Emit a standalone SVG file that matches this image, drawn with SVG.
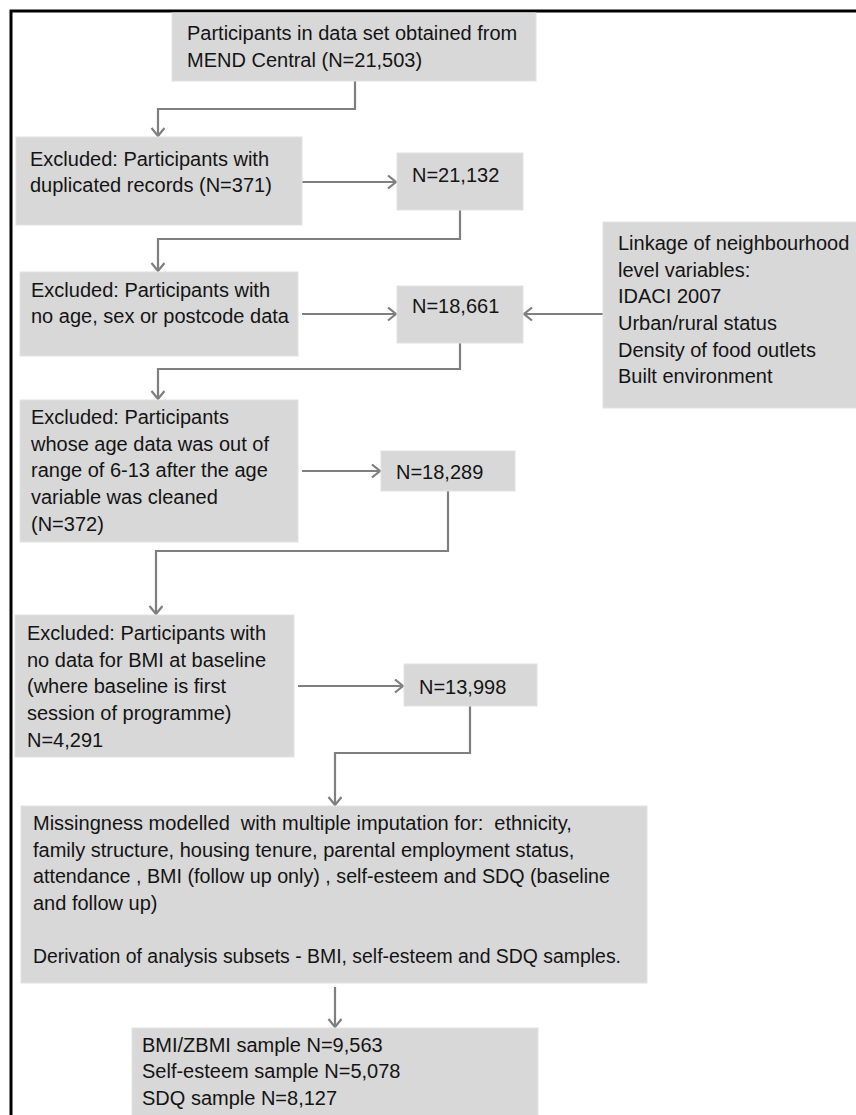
<svg xmlns="http://www.w3.org/2000/svg" width="856" height="1115" viewBox="0 0 856 1115">
<style>
.box{fill:#d8d8d8;stroke:#e2e2e2;stroke-width:1}
.t{font-family:"Liberation Sans",Arial,sans-serif;font-size:20px;fill:#141414}
.c{fill:none;stroke:#7f7f7f;stroke-width:2.2}
</style>
<defs>
<marker id="ah" markerUnits="userSpaceOnUse" markerWidth="14" markerHeight="16" refX="9" refY="7" orient="auto">
<path d="M1,0.5 L9,7 L1,13.5" fill="none" stroke="#7f7f7f" stroke-width="2.2"/>
</marker>
</defs>
<rect width="856" height="1115" fill="#ffffff"/>
<path d="M11,1115 V11 H856" fill="none" stroke="#000" stroke-width="3"/>

<g id="connectors">
<path class="c" d="M355,81 V109 H158 V136" marker-end="url(#ah)"/>
<path class="c" d="M302,182 H396" marker-end="url(#ah)"/>
<path class="c" d="M460,210 V239 H158 V271" marker-end="url(#ah)"/>
<path class="c" d="M302,314 H396" marker-end="url(#ah)"/>
<path class="c" d="M603,314 H524" marker-end="url(#ah)"/>
<path class="c" d="M460,343 V369 H158 V399" marker-end="url(#ah)"/>
<path class="c" d="M302,471 H380" marker-end="url(#ah)"/>
<path class="c" d="M448,491 V551 H156 V614" marker-end="url(#ah)"/>
<path class="c" d="M298,686 H403" marker-end="url(#ah)"/>
<path class="c" d="M470,706 V753 H335 V805" marker-end="url(#ah)"/>
<path class="c" d="M335,987 V1027" marker-end="url(#ah)"/>
</g>

<g id="n1">
<rect class="box" x="172" y="13" width="364" height="68"/>
<text class="t" x="187" y="40">Participants in data set obtained from</text>
<text class="t" x="187" y="67">MEND Central (N=21,503)</text>
</g>
<g id="n2">
<rect class="box" x="16" y="137" width="286" height="88"/>
<text class="t" x="30" y="166">Excluded: Participants with</text>
<text class="t" x="30" y="192">duplicated records (N=371)</text>
</g>
<g id="n3">
<rect class="box" x="397" y="153" width="126" height="57"/>
<text class="t" x="412" y="182">N=21,132</text>
</g>
<g id="n4">
<rect class="box" x="20" y="272" width="278" height="84"/>
<text class="t" x="31" y="297">Excluded: Participants with</text>
<text class="t" x="31" y="323">no age, sex or postcode data</text>
</g>
<g id="n5">
<rect class="box" x="397" y="286" width="126" height="57"/>
<text class="t" x="412" y="313">N=18,661</text>
</g>
<g id="n6">
<rect class="box" x="603" y="222" width="260" height="186"/>
<text class="t" x="618" y="250">Linkage of neighbourhood</text>
<text class="t" x="618" y="277">level variables:</text>
<text class="t" x="618" y="303">IDACI 2007</text>
<text class="t" x="618" y="330">Urban/rural status</text>
<text class="t" x="618" y="357">Density of food outlets</text>
<text class="t" x="618" y="383">Built environment</text>
</g>
<g id="n7">
<rect class="box" x="20" y="400" width="278" height="142"/>
<text class="t" x="31" y="424">Excluded: Participants</text>
<text class="t" x="31" y="451">whose age data was out of</text>
<text class="t" x="31" y="477">range of 6-13 after the age</text>
<text class="t" x="31" y="504">variable was cleaned</text>
<text class="t" x="31" y="531">(N=372)</text>
</g>
<g id="n8">
<rect class="box" x="381" y="451" width="134" height="40"/>
<text class="t" x="396" y="479">N=18,289</text>
</g>
<g id="n9">
<rect class="box" x="15" y="615" width="279" height="142"/>
<text class="t" x="27" y="640">Excluded: Participants with</text>
<text class="t" x="27" y="667">no data for BMI at baseline</text>
<text class="t" x="27" y="693">(where baseline is first</text>
<text class="t" x="27" y="720">session of programme)</text>
<text class="t" x="27" y="747">N=4,291</text>
</g>
<g id="n10">
<rect class="box" x="404" y="664" width="133" height="42"/>
<text class="t" x="419" y="694">N=13,998</text>
</g>
<g id="n11">
<rect class="box" x="21" y="806" width="626" height="177"/>
<text class="t" x="33" y="830" xml:space="preserve">Missingness modelled  with multiple imputation for:  ethnicity,</text>
<text class="t" x="33" y="857">family structure, housing tenure, parental employment status,</text>
<text class="t" x="33" y="883" textLength="577" lengthAdjust="spacingAndGlyphs">attendance , BMI (follow up only) , self-esteem and SDQ (baseline</text>
<text class="t" x="33" y="910">and follow up)</text>
<text class="t" x="33" y="963" textLength="588" lengthAdjust="spacingAndGlyphs">Derivation of analysis subsets - BMI, self-esteem and SDQ samples.</text>
</g>
<g id="n12">
<rect class="box" x="132" y="1028" width="406" height="95"/>
<text class="t" x="142" y="1052">BMI/ZBMI sample N=9,563</text>
<text class="t" x="142" y="1078">Self-esteem sample N=5,078</text>
<text class="t" x="142" y="1105">SDQ sample N=8,127</text>
</g>
</svg>
